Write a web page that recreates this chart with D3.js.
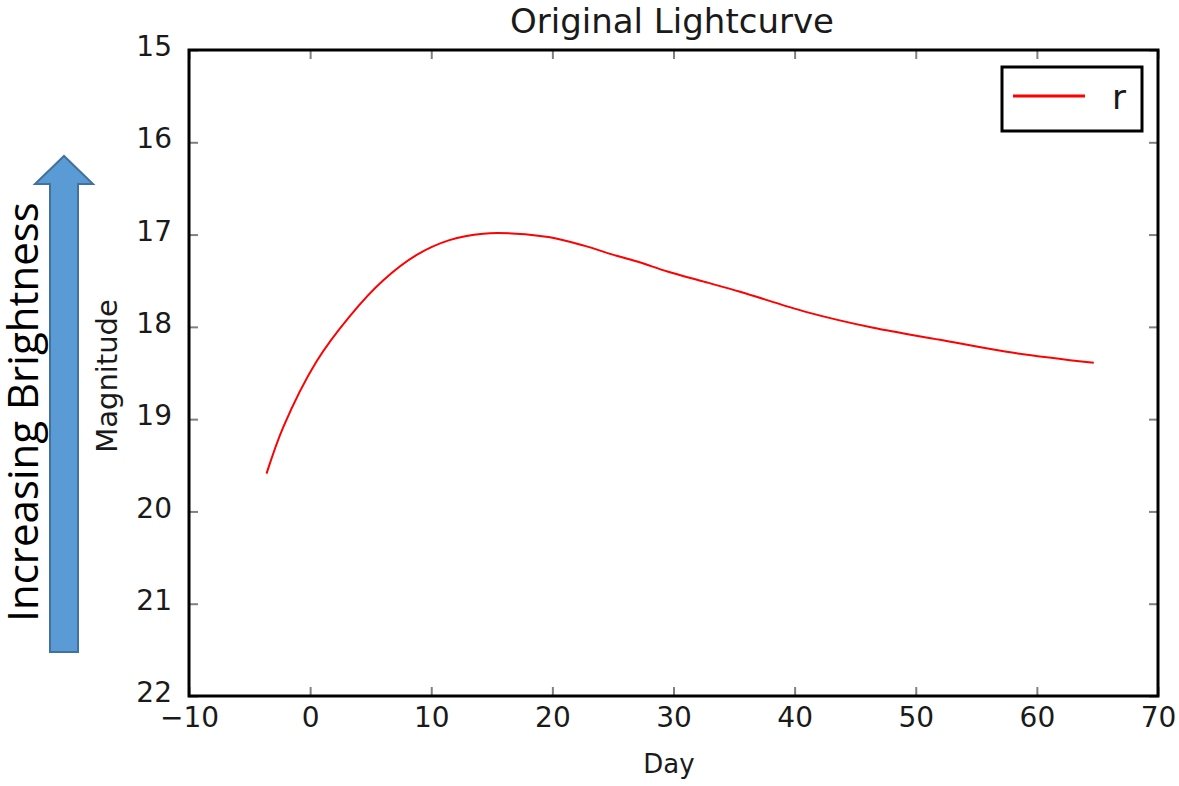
<!DOCTYPE html>
<html lang="en">
<head>
<meta charset="UTF-8">
<title>Original Lightcurve</title>
<script src="https://d3js.org/d3.v7.min.js"></script>
<style>
	body { margin: 0; background: #fff; }
	svg { display: block; }
	.tick text { font-family: "DejaVu Sans", sans-serif; font-size: 28px; fill: #1a1a1a; }
	.tick line { stroke: #808080; stroke-width: 2; }
</style>
</head>
<body>
<div id="chart"></div>
<script>
	// values
	const seriesName = "r";
	const days = [-3.6, -2.2, 0.5, 3.3, 6.0, 8.8, 11.5, 14.3, 17.0, 19.8, 22.6, 25.3, 27.2, 29.5, 32.5, 35.5, 41.0, 46.5, 52.0, 57.5, 64.7];
	const mags = [19.59, 19.08, 18.38, 17.88, 17.50, 17.22, 17.06, 16.99, 16.99, 17.03, 17.12, 17.23, 17.30, 17.40, 17.51, 17.62, 17.84, 18.01, 18.14, 18.27, 18.39];
	const xTicks = [-10, 0, 10, 20, 30, 40, 50, 60, 70];
	const yTicks = [15, 16, 17, 18, 19, 20, 21, 22];

	const W = 1179, H = 786;
	const plot = { left: 189, right: 1158, top: 50, bottom: 696 };

	const svg = d3.select("#chart").append("svg")
		.attr("width", W)
		.attr("height", H);

	const x = d3.scaleLinear().domain([-10, 70]).range([plot.left, plot.right]);
	const y = d3.scaleLinear().domain([15, 22]).range([plot.top, plot.bottom]);

	// axes, ticks pointing inward like matplotlib classic
	svg.append("g")
		.attr("transform", `translate(0,${plot.bottom})`)
		.call(d3.axisBottom(x).tickValues(xTicks).tickSize(-9).tickPadding(11))
		.call(g => g.select(".domain").remove());
	svg.append("g")
		.attr("transform", `translate(0,${plot.top})`)
		.call(d3.axisTop(x).tickValues(xTicks).tickSize(-9).tickFormat(""))
		.call(g => g.select(".domain").remove());
	svg.append("g")
		.attr("transform", `translate(${plot.left},0)`)
		.call(d3.axisLeft(y).tickValues(yTicks).tickSize(-9).tickPadding(17).tickFormat(d3.format("d")))
		.call(g => g.select(".domain").remove())
		.call(g => g.selectAll(".tick text").attr("dy", "0.2em"));
	svg.append("g")
		.attr("transform", `translate(${plot.right},0)`)
		.call(d3.axisRight(y).tickValues(yTicks).tickSize(-9).tickFormat(""))
		.call(g => g.select(".domain").remove());

	// the lightcurve
	const line = d3.line()
		.x((d, i) => x(days[i]))
		.y(d => y(d))
		.curve(d3.curveCatmullRom.alpha(0.5));

	svg.append("path")
		.datum(mags)
		.attr("d", line)
		.attr("fill", "none")
		.attr("stroke", "#ff0000")
		.attr("stroke-width", 2);

	// frame
	svg.append("rect")
		.attr("x", plot.left)
		.attr("y", plot.top)
		.attr("width", plot.right - plot.left)
		.attr("height", plot.bottom - plot.top)
		.attr("fill", "none")
		.attr("stroke", "#000")
		.attr("stroke-width", 3);

	// legend
	const legend = svg.append("g").attr("transform", "translate(1002,67)");
	legend.append("rect")
		.attr("width", 140)
		.attr("height", 64)
		.attr("fill", "#fff")
		.attr("stroke", "#000")
		.attr("stroke-width", 3);
	legend.append("line")
		.attr("x1", 11).attr("x2", 83)
		.attr("y1", 29).attr("y2", 29)
		.attr("stroke", "#ff0000")
		.attr("stroke-width", 3);
	legend.append("text")
		.attr("x", 110)
		.attr("y", 42)
		.attr("font-family", "DejaVu Sans, sans-serif")
		.attr("font-size", 34)
		.attr("fill", "#1a1a1a")
		.text(seriesName);

	// titles
	svg.append("text")
		.attr("x", 672)
		.attr("y", 33)
		.attr("text-anchor", "middle")
		.attr("font-family", "DejaVu Sans, sans-serif")
		.attr("font-size", 34)
		.attr("fill", "#1a1a1a")
		.text("Original Lightcurve");

	svg.append("text")
		.attr("x", 669)
		.attr("y", 773)
		.attr("text-anchor", "middle")
		.attr("font-family", "DejaVu Sans, sans-serif")
		.attr("font-size", 26)
		.attr("fill", "#1a1a1a")
		.text("Day");

	svg.append("text")
		.attr("transform", "translate(117,376) rotate(-90)")
		.attr("text-anchor", "middle")
		.attr("font-family", "DejaVu Sans, sans-serif")
		.attr("font-size", 29)
		.attr("fill", "#1a1a1a")
		.text("Magnitude");

	// annotation: blue arrow and label
	const arrow = [[50, 652], [50, 184], [35, 184], [64, 156], [93, 184], [78, 184], [78, 652]];
	svg.append("path")
		.attr("d", d3.line()(arrow) + "Z")
		.attr("fill", "#5b9bd5")
		.attr("stroke", "#41719c")
		.attr("stroke-width", 2);

	svg.append("text")
		.attr("transform", "translate(38,412) rotate(-90)")
		.attr("text-anchor", "middle")
		.attr("font-family", "Open Sans, sans-serif")
		.attr("font-size", 42)
		.attr("fill", "#000")
		.text("Increasing Brightness");
</script>
</body>
</html>
